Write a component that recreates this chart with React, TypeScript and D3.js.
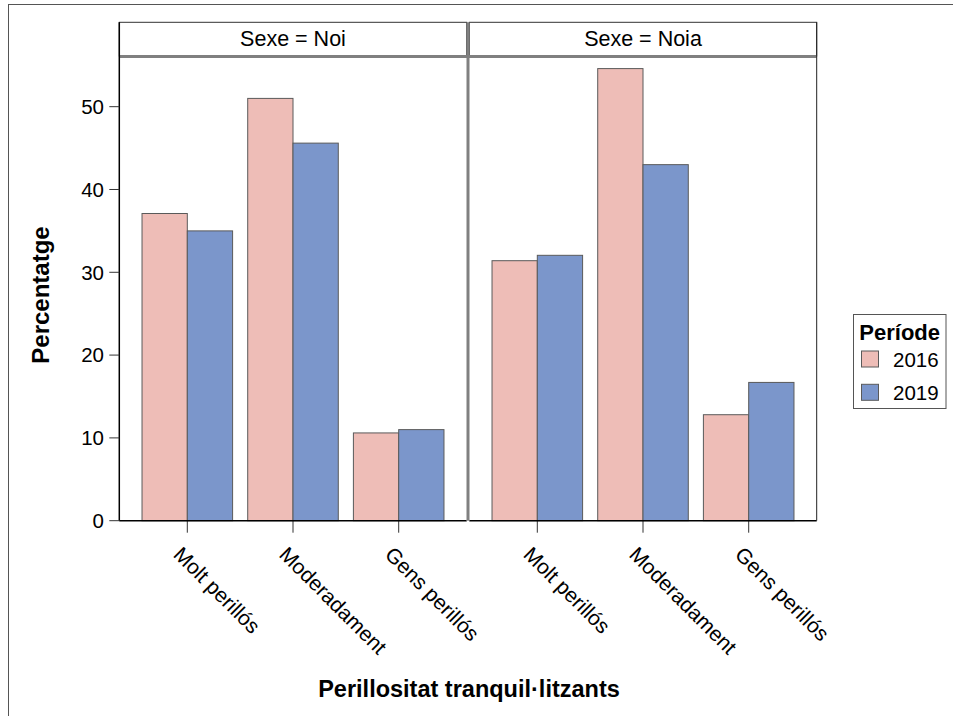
import React from "react";
import * as d3 from "d3";

const categories = ["Molt perillós", "Moderadament", "Gens perillós"];
const periods = ["2016", "2019"];
const panels = ["Noi", "Noia"];
const valuesNoi2016 = [37.1, 51.0, 10.6];
const valuesNoi2019 = [35.0, 45.6, 11.0];
const valuesNoia2016 = [31.4, 54.6, 12.8];
const valuesNoia2019 = [32.05, 43.0, 16.7];
const yTicks = [0, 10, 20, 30, 40, 50];

const colors: Record<string, string> = { "2016": "#EEBDB7", "2019": "#7B96CB" };
const FONT = "'Liberation Sans', Arial, sans-serif";

const panelData: Record<string, Record<string, number[]>> = {
  Noi: { "2016": valuesNoi2016, "2019": valuesNoi2019 },
  Noia: { "2016": valuesNoia2016, "2019": valuesNoia2019 },
};

export default function App() {
  const W = 953, H = 716;
  const plotTop = 57, plotBottom = 520.7;
  const stripTop = 22.3, stripBottom = 56;
  const panelX: [number, number][] = [[119.3, 466.7], [469.3, 816.7]];
  const y = d3.scaleLinear().domain([0, 56]).range([plotBottom, plotTop]);

  return (
    <svg width={W} height={H} style={{ position: "absolute", left: 0, top: 0, background: "#fff" }} fontFamily={FONT}>
      <rect x={8.5} y={4.5} width={1200} height={1200} fill="#fff" stroke="#555" strokeWidth={1} />
      {panels.map((p, pi) => {
        const [x0, x1] = panelX[pi];
        const xb = d3.scaleBand<string>().domain(categories).range([x0, x1]).paddingInner(0.143).paddingOuter(0.215);
        const xs = d3.scaleBand<string>().domain(periods).range([0, xb.bandwidth()]);
        return (
          <g key={p}>
            <rect x={x0} y={stripTop} width={x1 - x0} height={stripBottom - stripTop} fill="#fff" stroke="#333" strokeWidth={1} />
            <text x={(x0 + x1) / 2} y={45.5} textAnchor="middle" fontSize={21.5} fill="#000">{`Sexe = ${p}`}</text>
            {categories.map((c, ci) =>
              periods.map((per) => {
                const v = panelData[p][per][ci];
                return (
                  <rect key={c + per} x={(xb(c) as number) + (xs(per) as number)} y={y(v)} width={xs.bandwidth()} height={y(0) - y(v)}
                    fill={colors[per]} stroke="#5a5a5a" strokeWidth={1} />
                );
              })
            )}
            {categories.map((c) => {
              const cx = (xb(c) as number) + xb.bandwidth() / 2;
              return (
                <g key={c}>
                  <line x1={cx} x2={cx} y1={plotBottom} y2={plotBottom + 12} stroke="#333" strokeWidth={1} />
                  <text transform={`translate(${cx - 15},${plotBottom + 35}) rotate(45)`} fontSize={21} fill="#000">{c}</text>
                </g>
              );
            })}
            <line x1={x0} x2={x1} y1={plotBottom} y2={plotBottom} stroke="#000" strokeWidth={1.5} />
          </g>
        );
      })}
      <line x1={119.3} x2={816.7} y1={stripBottom + 0.5} y2={stripBottom + 0.5} stroke="#808080" strokeWidth={3} />
      <line x1={468} x2={468} y1={stripTop} y2={plotBottom} stroke="#808080" strokeWidth={3} />
      <line x1={816.7} x2={816.7} y1={stripTop} y2={plotBottom} stroke="#222" strokeWidth={1} />
      <line x1={119.3} x2={119.3} y1={stripTop} y2={plotBottom} stroke="#000" strokeWidth={1.5} />
      {yTicks.map((t) => (
        <g key={t}>
          <line x1={109.3} x2={119.3} y1={y(t)} y2={y(t)} stroke="#333" strokeWidth={1} />
          <text x={104} y={y(t)} dy="0.36em" textAnchor="end" fontSize={20.5} fill="#000">{t}</text>
        </g>
      ))}
      <text transform={`translate(49,295) rotate(-90)`} textAnchor="middle" fontSize={24} fontWeight="bold" fill="#000">Percentatge</text>
      <text x={469} y={697} textAnchor="middle" fontSize={23.5} fontWeight="bold" fill="#000">Perillositat tranquil·litzants</text>
      <rect x={853.5} y={314.5} width={92.5} height={94} fill="#fff" stroke="#555" strokeWidth={1} />
      <text x={899.7} y={339.5} textAnchor="middle" fontSize={22} fontWeight="bold" fill="#000">Període</text>
      {periods.map((per, i) => (
        <g key={per}>
          <rect x={861.5} y={351 + i * 33.3} width={17} height={16} fill={colors[per]} stroke="#5a5a5a" strokeWidth={1} />
          <text x={893} y={366.5 + i * 33.3} fontSize={20.5} fill="#000">{per}</text>
        </g>
      ))}
    </svg>
  );
}
